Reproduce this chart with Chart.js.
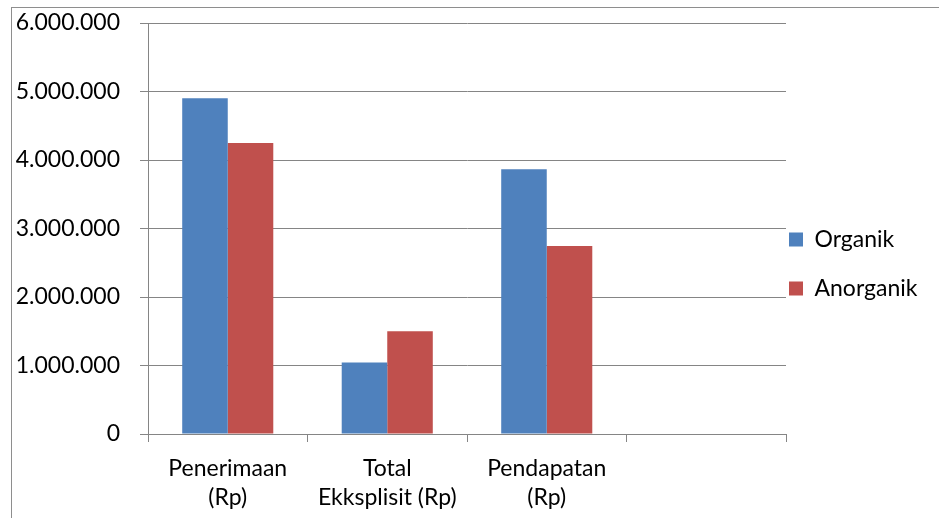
<!DOCTYPE html>
<html>
<head>
<meta charset="utf-8">
<script src="https://cdn.jsdelivr.net/npm/chart.js@4"></script>
<style>
html, body { margin: 0; padding: 0; background: #fff; overflow: hidden; }
#wrap { position: relative; width: 939px; height: 518px; }
#frame { position: absolute; left: 11px; top: 7px; right: 0; bottom: 0;
  border-left: 1px solid #8e8e8e; border-top: 1px solid #8e8e8e; pointer-events: none; }
</style>
</head>
<body>
<div id="wrap"><canvas id="c" width="939" height="518"></canvas><div id="frame"></div></div>
<script>
// ---- data ----
const categories = [['Penerimaan', '(Rp)'], ['Total', 'Ekksplisit (Rp)'], ['Pendapatan', '(Rp)'], ''];
const seriesNames = ['Organik', 'Anorganik'];
const organik = [4900000, 1045000, 3865000, null];
const anorganik = [4250000, 1500000, 2745000, null];
const yMin = 0, yMax = 6000000, yStep = 1000000;
const seriesColors = ['#4F81BD', '#C0504D'];

// ---- styling ----
const FONT = 'Lato, "Open Sans", sans-serif';
const FS = 23;
const GRID = '#858585';
const fmt = v => String(Math.round(v)).replace(/\B(?=(\d{3})+(?!\d))/g, '.');

const ctx = document.getElementById('c').getContext('2d');
const chart = new Chart(ctx, {
  type: 'bar',
  data: {
    labels: categories,
    datasets: [
      { label: seriesNames[0], data: organik, backgroundColor: seriesColors[0], borderWidth: 0,
        categoryPercentage: 0.571, barPercentage: 1.0 },
      { label: seriesNames[1], data: anorganik, backgroundColor: seriesColors[1], borderWidth: 0,
        categoryPercentage: 0.571, barPercentage: 1.0 }
    ]
  },
  options: {
    responsive: false,
    animation: false,
    devicePixelRatio: 1,
    layout: { padding: { left: 0, top: 23, right: 0, bottom: -10 } },
    plugins: {
      tooltip: { enabled: false },
      legend: {
        position: 'right',
        align: 'center',
        labels: {
          boxWidth: 14, boxHeight: 14, padding: 3, color: '#000',
          font: { family: FONT, size: FS, lineHeight: '46px' },
          generateLabels: (c) => Chart.defaults.plugins.legend.labels.generateLabels(c)
            .map(l => Object.assign({}, l, { text: [l.text], lineWidth: 0 }))
        }
      }
    },
    scales: {
      x: {
        grid: { display: true, drawOnChartArea: false, drawTicks: true, tickLength: 8, color: GRID, offset: true },
        border: { color: GRID },
        ticks: { color: '#000', font: { family: FONT, size: FS, lineHeight: '29px' }, padding: 12,
          maxRotation: 0, autoSkip: false },
        afterFit: (s) => { s.height = 94; }
      },
      y: {
        min: yMin, max: yMax,
        grid: { color: GRID, tickLength: 8 },
        border: { color: GRID },
        ticks: { stepSize: yStep, padding: 20, color: '#000',
          font: { family: FONT, size: FS, lineHeight: 0.1 }, callback: (v) => fmt(v) },
        afterFit: (s) => { s.width = 148; }
      }
    }
  }
});
// reserve a fixed-width legend column so the plot ends where the reference's does
const legendColumn = 153;
chart.options.layout.padding.right = Math.max(0, legendColumn - chart.legend.width);
chart.update();
</script>
</body>
</html>
